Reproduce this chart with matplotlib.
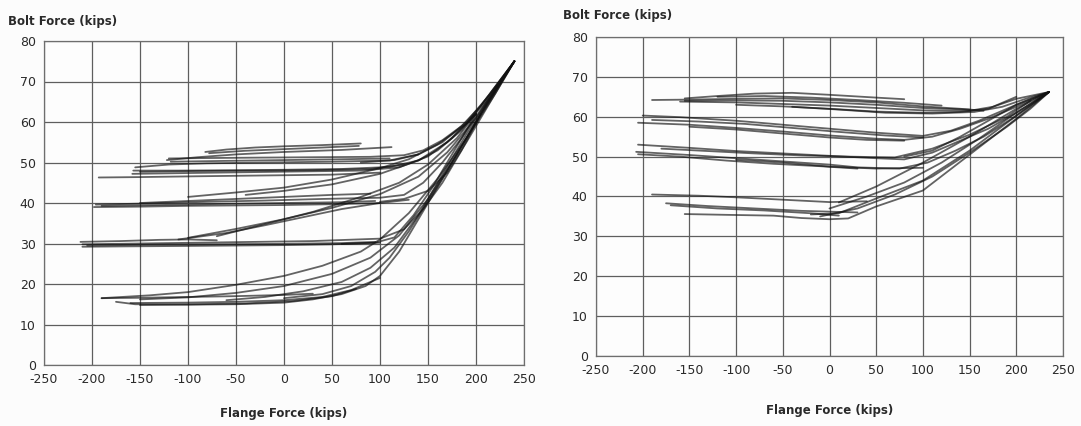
import matplotlib.pyplot as plt
import numpy as np

# ---- data: (flange force, bolt force) in kips ----
x_ticks = [-250, -200, -150, -100, -50, 0, 50, 100, 150, 200, 250]
y_ticks = [0, 10, 20, 30, 40, 50, 60, 70, 80]

# left panel
left_band54 = [(-82, 52.6), (-60, 53.2), (-30, 53.7), (0, 54.0), (40, 54.3), (80, 54.7)]
left_band54b = [(-78, 52.3), (-40, 52.9), (0, 53.3), (40, 53.7), (78, 54.1)]
left_band53 = [(-122, 50.6), (-90, 51.3), (-50, 52.0), (0, 52.6), (60, 53.1), (112, 53.8)]
left_band51 = [(-120, 51.0), (-80, 51.1), (-30, 51.2), (30, 51.3), (90, 51.4), (125, 51.8),
               (145, 53.0), (165, 55.5), (185, 59.0), (205, 64.0), (240, 75.0)]
left_band51b = [(-118, 50.2), (-60, 50.4), (0, 50.6), (60, 50.8), (110, 51.0)]
left_band49 = [(-155, 48.8), (-120, 49.5), (-80, 49.8), (-20, 50.0), (50, 50.2), (110, 50.5), (140, 52.0)]
left_band48 = [(-157, 48.0), (-110, 48.0), (-50, 48.1), (0, 48.2), (60, 48.4), (110, 48.9),
               (140, 50.5), (160, 53.0), (185, 58.0), (205, 64.0), (240, 75.0)]
left_band48b = [(-150, 47.7), (-90, 47.9), (-30, 48.0), (30, 48.1), (90, 48.4), (125, 49.5)]
left_band47 = [(-158, 47.2), (-100, 47.4), (-40, 47.6), (20, 47.8), (80, 48.0), (120, 48.8),
               (150, 51.5), (175, 56.0), (200, 62.0)]
left_band46 = [(-193, 46.3), (-150, 46.4), (-90, 46.6), (-20, 46.8), (50, 47.0), (100, 47.5)]
left_unload50 = [(240, 75.0), (215, 67.0), (190, 60.0), (165, 55.0), (140, 52.0), (115, 50.6), (80, 50.0)]
left_band39 = [(-198, 39.0), (-150, 39.1), (-100, 39.3), (-50, 39.4), (0, 39.5), (50, 39.7), (100, 40.0)]
left_band39b = [(-190, 39.3), (-130, 39.5), (-60, 39.8), (0, 40.0), (60, 40.2), (95, 40.5)]
left_band40 = [(-196, 39.6), (-140, 39.9), (-80, 40.3), (-20, 40.6), (40, 41.0), (100, 41.3),
               (125, 42.0), (145, 45.0), (165, 50.0), (185, 56.0), (205, 63.0), (240, 75.0)]
left_band40b = [(-150, 40.0), (-100, 40.5), (-50, 41.0), (0, 41.5), (50, 42.0), (90, 42.3)]
left_rise40 = [(-100, 41.5), (-50, 42.6), (0, 43.8), (50, 45.8), (100, 48.6), (130, 50.8),
               (160, 54.5), (190, 59.5), (210, 65.0), (240, 75.0)]
left_rise40b = [(-40, 42.0), (0, 43.0), (50, 44.6), (100, 47.2), (140, 50.5), (170, 55.0), (200, 62.0)]
left_band29 = [(-210, 29.2), (-160, 29.3), (-100, 29.4), (-50, 29.5), (0, 29.6), (50, 29.8), (100, 30.2)]
left_band29b = [(-205, 29.5), (-140, 29.7), (-80, 29.8), (-10, 29.9), (60, 30.1), (95, 30.4)]
left_band30 = [(-212, 30.4), (-170, 30.6), (-130, 30.9), (-100, 31.0), (-70, 30.8)]
left_band30b = [(-210, 29.8), (-150, 30.0), (-90, 30.2), (-30, 30.4), (30, 30.6), (100, 31.2),
                (125, 33.5), (145, 38.5), (165, 45.0), (185, 53.0), (205, 62.0), (240, 75.0)]
left_rise30 = [(-110, 31.0), (-60, 32.6), (-20, 34.5), (20, 36.5), (60, 38.5), (100, 40.0), (130, 40.8)]
left_rise30b = [(-100, 31.4), (-50, 33.6), (0, 36.0), (50, 38.8), (100, 42.2), (140, 46.5),
                (170, 52.5), (200, 61.0), (240, 75.0)]
left_rise30c = [(-70, 31.8), (-20, 34.8), (30, 37.8), (80, 41.5), (120, 45.0), (150, 49.5),
                (180, 56.0), (200, 62.0)]
left_band16 = [(-190, 16.5), (-150, 16.6), (-100, 16.8), (-50, 17.0), (0, 17.3), (30, 17.6)]
left_band15 = [(-175, 15.6), (-155, 15.0), (-100, 14.9), (-50, 15.0), (0, 15.4), (30, 16.2),
               (60, 17.5), (85, 19.5), (100, 22.0), (120, 28.0), (140, 36.0), (160, 44.0),
               (180, 52.0), (200, 60.0), (240, 75.0)]
left_band15b = [(-160, 15.3), (-100, 15.4), (-50, 15.6), (0, 16.0), (40, 16.8), (70, 18.5), (100, 21.5)]
left_band15c = [(-150, 14.8), (-90, 15.0), (-40, 15.2), (10, 15.8), (50, 17.0), (75, 18.8)]
left_rise15a = [(-190, 16.5), (-140, 17.2), (-100, 18.0), (-50, 19.8), (0, 22.0), (40, 24.5),
                (80, 28.0), (100, 31.0), (130, 37.5), (160, 46.0), (190, 56.0), (220, 67.0), (240, 75.0)]
left_rise15b = [(-150, 16.2), (-100, 16.7), (-50, 17.8), (0, 19.5), (50, 22.5), (90, 26.5),
                (120, 32.0), (150, 41.0), (180, 52.0), (205, 62.0)]
left_rise15c = [(-60, 16.0), (-20, 16.8), (20, 18.2), (60, 20.5), (90, 24.0), (115, 29.0),
                (140, 37.0), (165, 47.0), (190, 57.0), (215, 66.0), (240, 75.0)]
left_unload_a = [(240, 75.0), (210, 64.0), (185, 54.0), (165, 46.0), (150, 40.5), (130, 33.0),
                 (110, 26.5), (95, 23.0), (70, 19.5), (40, 17.5), (0, 16.5)]
left_unload_b = [(200, 62.0), (175, 52.0), (155, 44.0), (135, 37.0), (115, 31.5), (95, 30.2), (60, 29.9)]
left_unload_c = [(240, 75.0), (215, 65.0), (190, 55.0), (170, 47.5), (150, 43.0), (125, 41.0), (100, 40.3)]

# right panel
right_band64 = [(-190, 64.2), (-150, 64.3), (-100, 64.5), (-50, 64.6), (0, 64.2), (50, 63.6),
                (100, 62.6), (140, 62.0), (165, 61.5)]
right_band64b = [(-155, 64.0), (-100, 64.1), (-50, 64.0), (0, 63.6), (50, 63.0), (100, 62.2), (150, 61.8)]
right_band65 = [(-155, 64.6), (-120, 65.2), (-80, 65.8), (-40, 66.0), (0, 65.5), (50, 64.8), (80, 64.4)]
right_band65b = [(-120, 65.0), (-70, 65.2), (-20, 64.8), (30, 64.2), (80, 63.5), (120, 62.8)]
right_band63 = [(-160, 63.8), (-100, 63.6), (-50, 63.2), (0, 62.8), (50, 62.2), (100, 61.6),
                (150, 61.5), (175, 62.5), (200, 64.5), (235, 66.2)]
right_band62 = [(-100, 63.0), (-50, 62.6), (0, 62.0), (50, 61.3), (100, 61.0), (140, 61.2),
                (170, 62.0), (200, 65.0)]
right_band61 = [(-40, 62.5), (10, 61.8), (60, 61.0), (110, 60.8), (155, 61.2), (185, 62.5),
                (210, 64.5), (235, 66.2)]
right_band60 = [(-200, 60.3), (-160, 59.9), (-100, 59.0), (-50, 58.0), (0, 57.0), (50, 56.0),
                (100, 55.2), (130, 56.5), (160, 59.0), (190, 62.0), (210, 64.0), (235, 66.2)]
right_band58 = [(-205, 58.5), (-150, 58.0), (-100, 57.2), (-50, 56.3), (0, 55.3), (50, 54.5),
                (80, 54.2), (110, 55.0), (140, 57.0), (170, 59.5), (200, 62.5), (235, 66.2)]
right_band59 = [(-190, 59.2), (-140, 58.8), (-90, 58.2), (-40, 57.2), (10, 56.2), (60, 55.3), (100, 54.8)]
right_band57 = [(-150, 57.5), (-100, 56.8), (-50, 55.8), (0, 54.8), (40, 54.2), (80, 54.0)]
right_band53 = [(-205, 53.0), (-150, 52.2), (-100, 51.4), (-50, 50.8), (0, 50.2), (50, 49.6),
                (80, 49.3), (110, 51.0), (140, 54.0), (170, 57.0), (200, 61.0), (235, 66.2)]
right_band51 = [(-207, 51.2), (-150, 50.4), (-100, 49.6), (-50, 48.8), (0, 48.0), (30, 47.3),
                (75, 47.0), (105, 48.5), (135, 51.5), (165, 55.0), (195, 59.5), (235, 66.2)]
right_band50 = [(-205, 50.6), (-160, 50.0), (-110, 49.0), (-60, 48.2), (-10, 47.6), (30, 47.0)]
right_band52 = [(-180, 52.0), (-130, 51.4), (-80, 50.8), (-30, 50.3), (20, 50.0), (70, 49.8),
                (110, 52.0), (150, 55.5), (190, 60.0), (215, 64.0)]
right_band48 = [(-100, 49.2), (-50, 48.5), (0, 47.5), (50, 47.0), (100, 47.2)]
right_band40 = [(-190, 40.5), (-140, 40.2), (-100, 39.8), (-50, 39.2), (0, 38.6), (40, 38.8)]
right_band38 = [(-175, 38.3), (-130, 37.6), (-80, 37.0), (-30, 36.4), (0, 36.2), (30, 36.0)]
right_band37 = [(-170, 37.8), (-120, 37.0), (-70, 36.5), (-20, 35.8), (10, 35.2)]
right_band35 = [(-155, 35.6), (-110, 35.4), (-60, 35.2), (-30, 34.6), (0, 34.3), (20, 34.5),
                (50, 37.5), (100, 41.5), (150, 50.5), (200, 59.5), (235, 66.2)]
right_rise36 = [(-20, 35.5), (10, 35.8), (50, 39.5), (100, 44.0), (150, 51.5), (190, 58.5), (235, 66.2)]
right_rise38 = [(0, 37.0), (40, 40.0), (80, 43.5), (120, 48.5), (160, 54.5), (200, 61.0), (235, 66.2)]
right_rise40 = [(10, 38.5), (50, 42.5), (100, 48.5), (150, 55.0), (200, 62.0), (235, 66.2)]
right_rise38b = [(-10, 35.0), (30, 37.0), (70, 40.5), (110, 45.0), (150, 51.0), (190, 57.5),
                 (215, 62.0), (235, 66.2)]
right_unload = [(235, 66.2), (200, 63.0), (170, 59.0), (140, 55.0), (110, 51.5), (80, 50.0)]

left_curves = [left_band54, left_band54b, left_band53, left_band51, left_band51b, left_band49,
               left_band48, left_band48b, left_band47, left_band46, left_unload50, left_band39,
               left_band39b, left_band40, left_band40b, left_rise40, left_rise40b, left_band29,
               left_band29b, left_band30, left_band30b, left_rise30, left_rise30b, left_rise30c,
               left_band16, left_band15, left_band15b, left_band15c, left_rise15a, left_rise15b,
               left_rise15c, left_unload_a, left_unload_b, left_unload_c]
right_curves = [right_band64, right_band64b, right_band65, right_band65b, right_band63, right_band62,
                right_band61, right_band60, right_band58, right_band59, right_band57, right_band53,
                right_band51, right_band50, right_band52, right_band48, right_band40, right_band38,
                right_band37, right_band35, right_rise36, right_rise38, right_rise40, right_rise38b,
                right_unload]

W, H = 1081, 426
fig = plt.figure(figsize=(W / 100, H / 100), dpi=100)
fig.patch.set_facecolor('#fcfcfc')

text_col = '#2a2a2a'


def px_axes(l, t, r, b):
    return fig.add_axes([l / W, 1 - b / H, (r - l) / W, (b - t) / H])


def style(ax):
    ax.set_xlim(-250, 250)
    ax.set_ylim(0, 80)
    ax.set_xticks(x_ticks)
    ax.set_yticks(y_ticks)
    ax.set_xticklabels([str(v) for v in x_ticks])
    ax.grid(True, color='#5e5e5e', lw=0.9)
    ax.set_axisbelow(True)
    ax.set_facecolor('#fdfdfd')
    for s in ax.spines.values():
        s.set_color('#6e6e6e')
        s.set_linewidth(0.9)
    ax.tick_params(length=0, labelsize=9, colors=text_col, pad=6)


def draw(ax, curves):
    for c in curves:
        xs, ys = zip(*c)
        ax.plot(xs, ys, color='#111111', lw=1.3, alpha=0.65, solid_capstyle='round')


ax1 = px_axes(44, 41, 524, 365)
style(ax1)
draw(ax1, left_curves)
ax1.set_xlabel('Flange Force (kips)', fontsize=8.5, fontweight='bold', color=text_col, labelpad=15)
fig.text(8 / W, 1 - 21 / H, 'Bolt Force (kips)', fontsize=8.5, fontweight='bold',
         color=text_col, ha='left', va='center')

ax2 = px_axes(596, 37, 1063, 356)
style(ax2)
draw(ax2, right_curves)
ax2.set_xlabel('Flange Force (kips)', fontsize=8.5, fontweight='bold', color=text_col, labelpad=19)
fig.text(563 / W, 1 - 15 / H, 'Bolt Force (kips)', fontsize=8.5, fontweight='bold',
         color=text_col, ha='left', va='center')

plt.savefig('out.png', dpi=100)
plt.close()
